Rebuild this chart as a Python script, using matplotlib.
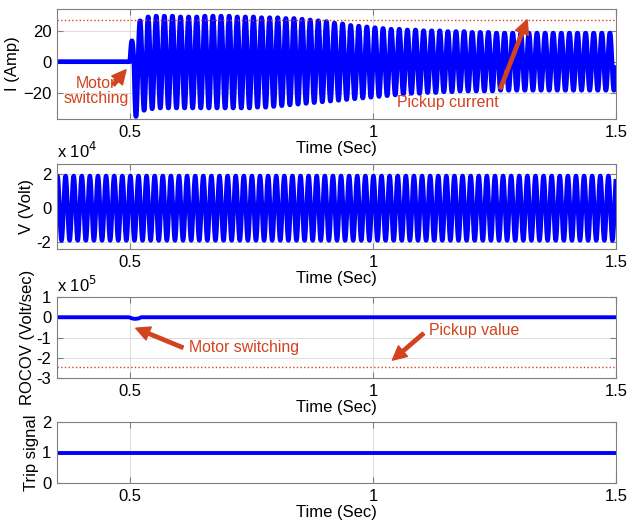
import numpy as np
import matplotlib.pyplot as plt
from matplotlib.ticker import FuncFormatter

plt.rcParams['font.family'] = ['Liberation Sans', 'DejaVu Sans']
fs = 12
fs_note = 11.4

# ---- data ----
freq = 60.0
t_switch = 0.5
t_end = 1.5
x_lim = (0.35, 1.5)

# current peaks per cycle after motor switching (Amp)
i_pos = [13.5, 26.5, 29.0, 29.5, 29.5, 29.5, 29.0, 29.0, 29.0, 29.5,
         29.5, 29.5, 29.5, 29.0, 29.0, 29.0, 28.5, 28.5, 28.5, 28.0,
         28.0, 27.5, 27.0, 26.5, 26.0, 25.0, 24.5, 23.5, 23.0, 22.5,
         22.0, 21.5, 21.0, 21.0, 20.5, 20.5, 20.0, 20.0, 20.0, 19.5,
         19.5, 19.5, 19.0, 19.0, 19.0, 18.5, 18.5, 18.5, 18.5, 18.5,
         18.5, 18.5, 18.5, 18.5, 18.5, 18.5, 18.5, 18.5, 18.5, 18.5]
i_neg = [-35.5, -31.5, -30.5, -30.0, -30.0, -30.0, -30.0, -30.0, -30.0, -30.0,
         -30.0, -30.0, -30.0, -30.0, -30.0, -29.5, -29.5, -29.0, -28.5, -28.0,
         -27.5, -27.0, -26.5, -26.0, -25.5, -25.0, -24.5, -24.0, -23.5, -23.0,
         -22.5, -22.0, -21.5, -21.0, -20.5, -20.5, -20.0, -20.0, -19.5, -19.5,
         -19.0, -19.0, -19.0, -19.0, -19.0, -18.5, -18.5, -18.5, -18.5, -18.5,
         -18.5, -18.5, -18.5, -18.5, -18.5, -18.5, -18.5, -18.5, -18.5, -18.5]
i_pickup = 27.0

v_peak = 1.9e4

rocov_t = [0.35, 0.498, 0.505, 0.51, 0.518, 0.523, 1.5]
rocov_v = [0.0, 0.0, -0.06e5, -0.08e5, -0.06e5, 0.0, 0.0]
rocov_pickup = -2.45e5

trip_t = [0.35, 1.5]
trip_v = [1, 1]

red = '#d2431f'
blue = '#0000ff'
grid_c = '#dcdcdc'
edge_c = '#7f7f7f'
arrow = dict(color=red, width=2.4, headwidth=10, headlength=10)

# ---- build waveforms ----
n = 30
per = 1.0 / freq
i_t = [x_lim[0], t_switch]
i_y = [0.0, 0.0]
for k in range(len(i_pos)):
    tt = np.linspace(0, per, n, endpoint=False)
    s = np.sin(2 * np.pi * freq * tt)
    yy = np.where(s >= 0, i_pos[k] * s, -i_neg[k] * s)
    i_t.extend(t_switch + k * per + tt)
    i_y.extend(yy)

v_t = np.arange(x_lim[0], t_end, per / n)
v_y = v_peak * np.sin(2 * np.pi * freq * v_t + 1.2)

fig = plt.figure(figsize=(6.28, 5.26), dpi=100)
W, H = 628.0, 526.0


def make_ax(top, bottom):
    ax = fig.add_axes([57 / W, 1 - bottom / H, 559 / W, (bottom - top) / H])
    ax.set_xlim(*x_lim)
    ax.set_xticks([0.5, 1, 1.5])
    ax.set_xticklabels(['0.5', '1', '1.5'])
    ax.grid(True, color=grid_c, lw=0.7)
    ax.set_axisbelow(True)
    ax.tick_params(direction='in', top=True, right=True, length=4,
                   color=edge_c, labelsize=fs, pad=4)
    for sp in ax.spines.values():
        sp.set_color(edge_c)
    ax.set_xlabel('Time (Sec)', fontsize=fs, labelpad=1)
    return ax


# panel 1 - current
ax1 = make_ax(9, 119)
ax1.plot(i_t, i_y, color=blue, lw=3.4)
ax1.axhline(i_pickup, color=red, lw=1, ls=':')
ax1.set_ylim(-37, 34)
ax1.set_yticks([-20, 0, 20])
ax1.set_ylabel('I (Amp)', fontsize=fs, labelpad=2)
ax1.annotate('', xy=(0.492, -5.2), xytext=(0.466, -15), arrowprops=arrow)
ax1.text(0.431, -19, 'Motor\nswitching', color=red, ha='center', va='center',
         fontsize=fs_note, linespacing=1.0)
ax1.annotate('', xy=(1.317, 27), xytext=(1.262, -17.5), arrowprops=arrow)
ax1.text(1.153, -26.5, 'Pickup current', color=red, ha='center', va='center',
         fontsize=fs_note)

# panel 2 - voltage
ax2 = make_ax(164, 249)
ax2.plot(v_t, v_y, color=blue, lw=3.2)
ax2.set_ylim(-2.4e4, 2.6e4)
ax2.set_yticks([-2e4, 0, 2e4])
ax2.yaxis.set_major_formatter(FuncFormatter(lambda v, p: '%g' % (v / 1e4)))
ax2.set_ylabel('V (Volt)', fontsize=fs, labelpad=2)
ax2.text(0.0, 1.03, 'x 10$^4$', transform=ax2.transAxes, fontsize=fs,
         va='bottom', ha='left')

# panel 3 - ROCOV
ax3 = make_ax(297, 378)
ax3.plot(rocov_t, rocov_v, color=blue, lw=2.8)
ax3.axhline(rocov_pickup, color=red, lw=1, ls=':')
ax3.set_ylim(-3e5, 1e5)
ax3.set_yticks([-3e5, -2e5, -1e5, 0, 1e5])
ax3.yaxis.set_major_formatter(FuncFormatter(lambda v, p: '%g' % (v / 1e5)))
ax3.set_ylabel('ROCOV (Volt/sec)', fontsize=fs, labelpad=1)
ax3.text(0.0, 1.03, 'x 10$^5$', transform=ax3.transAxes, fontsize=fs,
         va='bottom', ha='left')
ax3.annotate('', xy=(0.512, -0.54e5), xytext=(0.609, -1.5e5), arrowprops=arrow)
ax3.text(0.621, -1.48e5, 'Motor switching', color=red, ha='left', va='center',
         fontsize=fs_note)
ax3.annotate('', xy=(1.04, -2.12e5), xytext=(1.104, -0.8e5), arrowprops=arrow)
ax3.text(1.116, -0.64e5, 'Pickup value', color=red, ha='left', va='center',
         fontsize=fs_note)

# panel 4 - trip signal
ax4 = make_ax(422, 483)
ax4.plot(trip_t, trip_v, color=blue, lw=2.8)
ax4.set_ylim(0, 2)
ax4.set_yticks([0, 1, 2])
ax4.set_ylabel('Trip signal', fontsize=fs, labelpad=2)

fig.savefig('out.png', dpi=100)
